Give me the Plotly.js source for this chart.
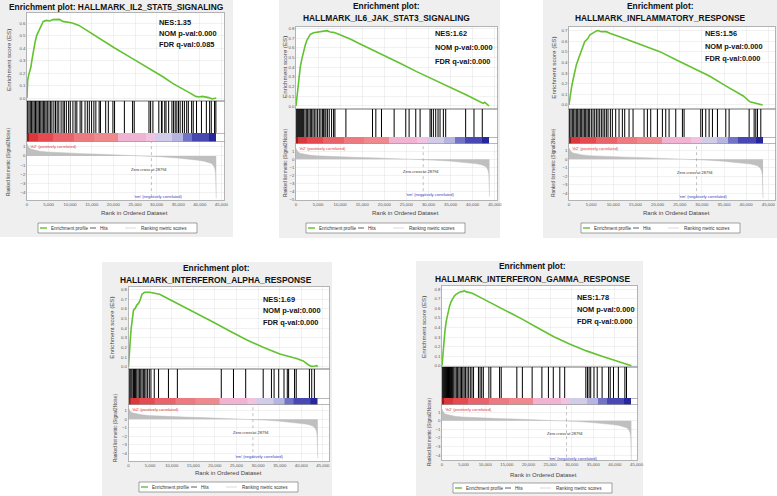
<!DOCTYPE html>
<html>
<head>
<meta charset="utf-8">
<script src="https://cdn.plot.ly/plotly-3.0.1.min.js"></script>
<style>
  html, body { margin: 0; padding: 0; background: #fff; }
  #chart { width: 777px; height: 496px; }
</style>
</head>
<body>
<div id="chart"></div>
<script>
// gene sets and their stats
const setNames = [
  "HALLMARK_IL2_STAT5_SIGNALING",
  "HALLMARK_IL6_JAK_STAT3_SIGNALING",
  "HALLMARK_INFLAMMATORY_RESPONSE",
  "HALLMARK_INTERFERON_ALPHA_RESPONSE",
  "HALLMARK_INTERFERON_GAMMA_RESPONSE"
];
const nesValues = ["1.35", "1.62", "1.56", "1.69", "1.78"];
const nomPValues = ["0.000", "0.000", "0.000", "0.000", "0.000"];
const fdrQValues = ["0.085", "0.000", "0.000", "0.000", "0.000"];

// running enrichment score (rank, ES)
const esRank1 = [0,150,376,601,902,1127,1503,1878,2254,2630,3005,3381,3757,4508,5259,6010,6761,7513,8264,9016,9767,10518,12021,13523,15026,16529,20285,24042,27798,31555,33809,36062,37565,39068,39820,40571,41322,42073,42825,43800];
const esScore1 = [0,0.141,0.181,0.208,0.248,0.301,0.381,0.448,0.501,0.528,0.555,0.595,0.613,0.621,0.616,0.627,0.629,0.629,0.613,0.608,0.603,0.600,0.581,0.547,0.515,0.483,0.400,0.323,0.248,0.168,0.115,0.075,0.043,0.013,0.008,0.013,0.011,0.003,-0.008,0];

const esRank2 = [0,226,451,677,978,1354,1731,2107,2483,2859,3236,3988,4740,5493,6245,6998,7750,8503,9255,10760,12265,14522,16780,19790,23552,27314,31076,34838,38600,40858,42363,42739,43115,43700];
const esScore2 = [0,0.096,0.199,0.285,0.405,0.491,0.577,0.628,0.680,0.714,0.738,0.755,0.762,0.766,0.769,0.776,0.762,0.759,0.748,0.721,0.690,0.639,0.591,0.525,0.440,0.354,0.275,0.199,0.113,0.062,0.027,0.038,0.021,0];

const esRank3 = [0,301,528,904,1281,1658,2035,2411,2788,3165,3542,3919,4295,4672,5426,6179,6556,7310,8440,9194,11454,14469,16730,20498,24266,28033,31801,35569,39337,40844,41598,42351,43105,43708];
const esScore3 = [0,0.110,0.157,0.235,0.314,0.377,0.424,0.471,0.518,0.565,0.596,0.612,0.628,0.659,0.681,0.697,0.700,0.690,0.690,0.675,0.643,0.596,0.565,0.502,0.424,0.345,0.270,0.175,0.085,0.030,0.022,0.016,0.009,0];

const esRank4 = [0,155,387,618,850,1160,1546,1933,2319,2706,3092,3479,3710,4870,6026,7189,7962,11827,15692,19557,23422,27287,31152,35017,38882,40428,41588,42361,43134,43521,43800];
const esScore4 = [0,0.155,0.259,0.397,0.500,0.586,0.603,0.638,0.655,0.690,0.748,0.769,0.770,0.770,0.760,0.749,0.732,0.645,0.551,0.463,0.369,0.279,0.202,0.132,0.085,0.060,0.020,0.003,0.007,0.010,0];

const esRank5 = [0,226,452,679,980,1357,1734,2111,2488,2865,3242,3996,4373,4750,5127,5504,6258,7012,8520,10782,14552,18322,22092,25862,29632,33402,37172,40942,42450,43800];
const esScore5 = [0,0.138,0.276,0.362,0.466,0.552,0.621,0.672,0.707,0.731,0.748,0.766,0.776,0.776,0.786,0.776,0.769,0.759,0.724,0.672,0.586,0.493,0.397,0.303,0.224,0.155,0.097,0.041,0.024,0];

// positions of the gene set members in the ranked list
const hits1 = [152,455,759,1063,1366,1670,1973,2277,2581,2884,3188,3491,3795,4099,4402,4706,5085,5465,5768,6224,6603,6983,7362,7894,8349,8653,9108,9639,10019,10626,11157,11537,12296,12675,13434,13966,14421,14952,15484,15939,16698,17002,18216,18823,19886,20265,22542,24440,24819,28235,28614,29146,30512,31119,31271,31878,32182,32789,33548,33927,34307,34686,35066,35445,35977,36432,36963,37343,38102,38481,39240,40379,41517,42276,42656,43415,43718];
const hits2 = [151,377,602,828,1054,1280,1506,1732,2033,2334,2636,2937,3238,3539,3840,4142,4518,4895,5271,5648,6024,6250,6551,6777,7154,7530,8057,8509,8810,11295,17319,18072,19352,22214,24849,25602,27108,28087,30346,30647,31099,31626,32153,32605,33358,33885,38403,40286,42168];
const hits3 = [151,452,753,1054,1355,1657,1958,2259,2560,2861,3163,3464,3765,4066,4367,4669,5045,5422,5798,6175,6551,6928,7304,7681,8057,8434,8810,9337,9789,10542,11295,12048,12575,13554,14458,16943,17696,18449,19955,21084,21837,22590,24096,25602,25979,29744,30120,30873,31626,32379,33509,35391,36144,40662,41792,42168,42545,43298];
const hits4 = [153,382,611,840,1146,1375,1604,1910,2216,2521,2827,3133,3438,3744,4049,4431,4813,5195,5959,6952,9244,11307,21468,24295,27122,31171,33081,33692,34762,35984,36748,37054,38429,38811,41867,42402,43013];
const hits5 = [151,376,602,828,1054,1279,1505,1731,1957,2183,2408,2709,3010,3311,3612,3914,4215,4516,4817,5118,5419,5795,6171,6548,6924,7300,8429,8805,9182,9558,10837,11289,13321,13697,17310,18589,20847,23105,24610,25739,27244,28373,33265,33641,34018,34394,35147,35899,37028,38533,38909,39662,40791,42297,42673];

// ranked list metric (Signal2Noise), same dataset in all panels
const metricRank = [0,150,400,900,1800,3000,4700,7000,10000,13000,17000,21000,25000,28794,31500,34800,37500,39500,41000,42000,42700,43200,43500,43650,43720,43760,43800];
const metricValue = [1.35,1.1,0.92,0.75,0.62,0.52,0.43,0.36,0.3,0.25,0.19,0.13,0.07,0,-0.1,-0.22,-0.33,-0.45,-0.56,-0.68,-0.82,-1.05,-1.4,-1.9,-2.6,-4.5,-4.6];
const zeroCross = 28794;

// colour bar under the hits: rank edges and metric level of each block
const barEdges = [0,500,2500,6000,10800,15400,21000,27500,29700,33500,36000,38200,42200,43800];
const barLevel = [1.0,0.85,0.7,0.55,0.42,0.3,0.12,0.02,-0.12,-0.3,-0.55,-0.75,-0.95];

const legendLabels = ["Enrichment profile", "Hits", "Ranking metric scores"];
const posLabel = "'th2' (positively correlated)";
const negLabel = "'nm' (negatively correlated)";

const esRanks = [esRank1, esRank2, esRank3, esRank4, esRank5];
const esScores = [esScore1, esScore2, esScore3, esScore4, esScore5];
const hitSets = [hits1, hits2, hits3, hits4, hits5];

// pixel layout of the five panels
const panels = [
  { bg: [0, 0, 233, 237], left: 27, right: 224, rows: [13, 101, 133, 142, 200], xMax: 45600,
    esRange: [-0.024, 0.68], mRange: [-4.76, 1.51],
    title: [[116.5, 6.7]], statX: 157, statY: [22.7, 33.4, 44.3],
    esTitle: [8, 60], mTitle: [8, 162], rankTitle: [134, 212.7], legend: [38, 223] },
  { bg: [279, 0, 500, 238], left: 296, right: 497, rows: [27, 109, 137, 144, 200], xMax: 45500,
    esRange: [-0.031, 0.814], mRange: [-5.02, 1.89],
    title: [[386.7, 6], [386.5, 18.3]], statX: 433, statY: [33.5, 47.5, 61],
    esTitle: [285, 67], mTitle: [285, 163], rankTitle: [405.7, 213], legend: [306, 223] },
  { bg: [543, 0, 777, 238], left: 569, right: 775, rows: [27, 109, 137, 144, 200], xMax: 46500,
    esRange: [-0.038, 0.734], mRange: [-4.79, 1.8],
    title: [[660, 6], [660, 18.3]], statX: 703, statY: [33.3, 46, 58.7],
    esTitle: [552.7, 68], mTitle: [552.7, 163], rankTitle: [676, 213], legend: [581, 223] },
  { bg: [102, 262, 332, 496], left: 128.5, right: 329, rows: [287, 369, 398, 405, 461], xMax: 46400,
    esRange: [-0.024, 0.825], mRange: [-4.9, 1.67],
    title: [[216, 267.7], [216, 280]], statX: 260.7, statY: [299, 310.7, 322.3],
    esTitle: [110.7, 328], mTitle: [115, 428], rankTitle: [228, 473], legend: [139, 482] },
  { bg: [416, 261, 643, 496], left: 442, right: 637, rows: [286, 367, 398, 405, 460], xMax: 45100,
    esRange: [-0.014, 0.835], mRange: [-4.57, 1.83],
    title: [[532.7, 266], [532.8, 279]], statX: 575, statY: [297.3, 309.3, 321],
    esTitle: [423, 327], mTitle: [429, 432], rankTitle: [543.7, 475], legend: [453, 483] }
];

const W = 777, H = 496;
const fx = px => px / W;
const fy = py => 1 - py / H;

const FONT = "Liberation Sans, Arial, sans-serif";
const green = "#62c22f";
const gridColor = "#e4e4e4";
const boxColor = "#9a9a9a";
const metricGray = "#bfbfbf";

const barScale = [
  [0, "#1e1e98"], [0.125, "#4848b2"], [0.225, "#7272c6"], [0.35, "#b6b4e0"],
  [0.44, "#d2cce8"], [0.51, "#f0c4e0"], [0.56, "#f0b4d2"], [0.65, "#ee8a8e"],
  [0.71, "#ec7a80"], [0.775, "#e8636a"], [0.85, "#e44a50"], [0.925, "#da383c"],
  [1, "#9c1a1a"]
];

const traces = [];
const layout = {
  width: W, height: H,
  margin: { l: 0, r: 0, t: 0, b: 0 },
  paper_bgcolor: "#ffffff",
  plot_bgcolor: "rgba(0,0,0,0)",
  showlegend: false,
  font: { family: FONT, color: "#333" },
  shapes: [],
  annotations: []
};

function note(text, x, y, opts) {
  layout.annotations.push(Object.assign({
    text: text, x: fx(x), y: fy(y), xref: "paper", yref: "paper",
    showarrow: false, xanchor: "center", yanchor: "middle"
  }, opts));
}

panels.forEach((p, i) => {
  const id = r => i * 4 + r + 1;
  const xid = r => (id(r) === 1 ? "x" : "x" + id(r));
  const yid = r => (id(r) === 1 ? "y" : "y" + id(r));
  const xkey = r => (id(r) === 1 ? "xaxis" : "xaxis" + id(r));
  const ykey = r => (id(r) === 1 ? "yaxis" : "yaxis" + id(r));
  const xDomain = [fx(p.left), fx(p.right)];

  // panel background and white plotting column
  layout.shapes.push({
    type: "rect", xref: "paper", yref: "paper", layer: "below",
    x0: fx(p.bg[0]), x1: fx(p.bg[2]), y0: fy(p.bg[3]), y1: fy(p.bg[1]),
    fillcolor: "#efefef", line: { width: 0 }
  });
  layout.shapes.push({
    type: "rect", xref: "paper", yref: "paper", layer: "below",
    x0: xDomain[0], x1: xDomain[1], y0: fy(p.rows[4]), y1: fy(p.rows[0]),
    fillcolor: "#ffffff", line: { width: 0 }
  });

  for (let r = 0; r < 4; r++) {
    const isEs = r === 0, isMetric = r === 3;
    layout[xkey(r)] = {
      domain: xDomain, anchor: yid(r), range: [0, p.xMax],
      tick0: 0, dtick: 5000, tickformat: ",d", ticks: "",
      showticklabels: isMetric, showgrid: isEs || isMetric, gridcolor: gridColor, gridwidth: 0.5,
      zeroline: false, showline: r !== 2, mirror: true, linecolor: boxColor, linewidth: 0.7,
      tickfont: { size: 4.3, color: "#555" }, fixedrange: true
    };
    const yax = {
      domain: [fy(p.rows[r + 1]), fy(p.rows[r])], anchor: xid(r),
      ticks: "", zeroline: false, showline: true, mirror: true,
      linecolor: boxColor, linewidth: 0.7, gridcolor: gridColor, gridwidth: 0.5,
      tickfont: { size: 4.3, color: "#555" }, fixedrange: true
    };
    if (isEs) Object.assign(yax, { range: p.esRange, tick0: 0, dtick: 0.1, tickformat: ".1f", showgrid: true });
    else if (isMetric) Object.assign(yax, { range: p.mRange, tick0: 0, dtick: 1, showgrid: true });
    else Object.assign(yax, { range: [0, 1], showticklabels: false, showgrid: false });
    layout[ykey(r)] = yax;
  }

  // ranked list metric
  traces.push({
    type: "scatter", mode: "lines", x: metricRank, y: metricValue,
    xaxis: xid(3), yaxis: yid(3), fill: "tozeroy", fillcolor: metricGray,
    line: { color: metricGray, width: 0.5 }, hoverinfo: "skip"
  });

  // colour bar
  traces.push({
    type: "heatmap", x: barEdges, y: [0, 1], z: [barLevel],
    xaxis: xid(2), yaxis: yid(2), zmin: -1, zmax: 1,
    colorscale: barScale, showscale: false, hoverinfo: "skip"
  });

  // hits as vertical ticks
  const hx = [], hy = [];
  hitSets[i].forEach(h => { hx.push(h, h, null); hy.push(0, 1, null); });
  traces.push({
    type: "scatter", mode: "lines", x: hx, y: hy,
    xaxis: xid(1), yaxis: yid(1), line: { color: "#000", width: 1.0 }, hoverinfo: "skip"
  });

  // enrichment profile
  traces.push({
    type: "scatter", mode: "lines", x: esRanks[i], y: esScores[i],
    xaxis: xid(0), yaxis: yid(0), line: { color: green, width: 1.6 }, hoverinfo: "skip"
  });

  // zero cross marker
  layout.shapes.push({
    type: "line", xref: xid(3), yref: yid(3) + " domain",
    x0: zeroCross, x1: zeroCross, y0: 0.05, y1: 1,
    line: { color: "#999", width: 0.6, dash: "dot" }
  });

  // titles
  const titleFont = { family: FONT, size: 8.4, color: "#111", weight: "bold" };
  if (p.title.length === 1) {
    note("Enrichment plot: " + setNames[i], p.title[0][0], p.title[0][1], { font: titleFont });
  } else {
    note("Enrichment plot:", p.title[0][0], p.title[0][1], { font: titleFont });
    note(setNames[i], p.title[1][0], p.title[1][1], { font: titleFont });
  }

  // stats block
  const statFont = { family: FONT, size: 7.4, color: "#111", weight: "bold" };
  ["NES:" + nesValues[i], "NOM p-val:" + nomPValues[i], "FDR q-val:" + fdrQValues[i]].forEach((t, k) => {
    note(t, p.statX, p.statY[k], { xanchor: "left", font: statFont });
  });

  // axis titles
  note("Enrichment score (ES)", p.esTitle[0], p.esTitle[1], { textangle: -90, font: { family: FONT, size: 6.2, color: "#444" } });
  note("Ranked list metric (Signal2Noise)", p.mTitle[0], p.mTitle[1], { textangle: -90, font: { family: FONT, size: 4.6, color: "#444" } });
  note("Rank in Ordered Dataset", p.rankTitle[0], p.rankTitle[1], { font: { family: FONT, size: 6, color: "#444" } });

  // labels inside the metric plot
  layout.annotations.push({
    text: posLabel, xref: xid(3), yref: yid(3) + " domain", x: 0, y: 1,
    xanchor: "left", yanchor: "top", xshift: 1, showarrow: false,
    font: { family: FONT, size: 4, color: "#e0332f" }
  });
  layout.annotations.push({
    text: "Zero cross at " + zeroCross, xref: xid(3), yref: yid(3), x: zeroCross, y: -1.5,
    xanchor: "center", yanchor: "middle", xshift: -2, showarrow: false,
    font: { family: FONT, size: 4, color: "#333" }
  });
  layout.annotations.push({
    text: negLabel, xref: xid(3), yref: yid(3), x: zeroCross + 1500, y: -4.35,
    xanchor: "center", yanchor: "middle", showarrow: false,
    font: { family: FONT, size: 4, color: "#3b3bc4" }
  });

  // legend box
  const lx = p.legend[0], ly = p.legend[1];
  layout.shapes.push({
    type: "rect", xref: "paper", yref: "paper",
    x0: fx(lx), x1: fx(lx + 159), y0: fy(ly + 10), y1: fy(ly),
    fillcolor: "#ffffff", line: { color: "#666", width: 0.6 }
  });
  const keyColors = [green, "#333", "#cfcfcf"];
  const keySpans = [[2, 9], [52, 58], [87, 98]];
  const textAt = [10.5, 60, 101];
  legendLabels.forEach((lab, k) => {
    layout.shapes.push({
      type: "line", xref: "paper", yref: "paper",
      x0: fx(lx + keySpans[k][0]), x1: fx(lx + keySpans[k][1]), y0: fy(ly + 5), y1: fy(ly + 5),
      line: { color: keyColors[k], width: k === 0 ? 1.4 : 0.8 }
    });
    note(lab, lx + textAt[k], ly + 5.2, { xanchor: "left", font: { family: FONT, size: 4.6, color: "#333" } });
  });
});

Plotly.newPlot("chart", traces, layout, { displayModeBar: false, staticPlot: true });
</script>
</body>
</html>
